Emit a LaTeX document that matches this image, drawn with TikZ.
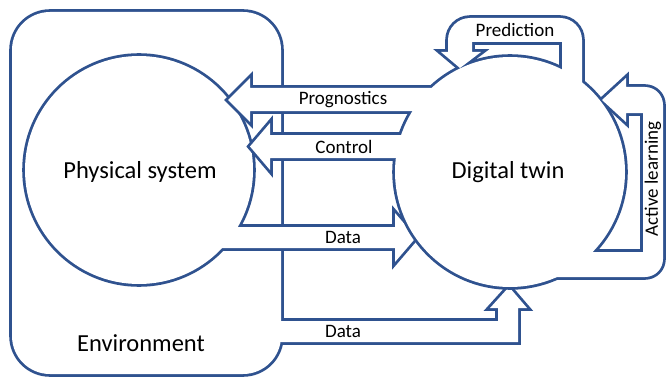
\documentclass[tikz,border=0pt]{standalone}
\usepackage{fontspec}
\setmainfont{Carlito}
\definecolor{twinblue}{HTML}{2F528F}

% outlines of the merged shapes (x=1pt, y=-1pt)
\newcommand{\envpath}{[rounded corners=38pt] (12,12) rectangle (281,374)}
\newcommand{\datalow}{(240,321) -- (498,321) -- (498,308) -- (490,308) -- (509,287) -- (527,308) -- (518,308) -- (518,342) -- (240,342) -- cycle}
\newcommand{\physpath}{(139,170) circle[radius=114pt]}
\newcommand{\dataup}{(200,227) -- (395,227) -- (395,213) -- (416,237.5) -- (395,262) -- (395,248) -- (200,248) -- cycle}
\newcommand{\twinpath}{(510,172) circle[radius=115pt]}
\newcommand{\progpath}{(470,88) -- (250,88) -- (250,78) -- (228,100) -- (250,122) -- (250,111) -- (470,111) -- cycle}
\newcommand{\ctrlpath}{(470,135) -- (270,135) -- (270,123) -- (250,146.5) -- (270,170) -- (270,158) -- (470,158) -- cycle}
\newcommand{\predpath}{(562,120) -- (562,42) -- (472,42) -- (472,52) -- (481,52) -- (460,68) -- (441,52) -- (448,52) -- (448,40) arc[start angle=180,end angle=90,radius=22pt] -- (560,18) arc[start angle=90,end angle=0,radius=22pt] -- (582,120) -- cycle}
\newcommand{\learnpath}{(540,277) -- (645,277) arc[start angle=-90,end angle=0,radius=18pt] -- (663,105) arc[start angle=0,end angle=90,radius=18pt] -- (626,87) -- (626,78) -- (602,100) -- (626,122) -- (626,113) -- (643,113) -- (643,252) -- (540,252) -- cycle}

\begin{document}
\begin{tikzpicture}[x=1pt,y=-1pt,
    outline/.style={draw=twinblue,line width=5.6pt},
    bigtext/.style={font=\fontsize{24.5}{26}\selectfont},
    smalltext/.style={font=\fontsize{19}{21}\selectfont}]

            \useasboundingbox (0,0) rectangle (668,377);

            % Environment with the lower data arrow
            \draw[outline] \envpath;
            \draw[outline] \datalow;
            \fill[white] \envpath;
            \fill[white] \datalow;

            % Physical system with the upper data arrow
            \draw[outline] \physpath;
            \draw[outline] \dataup;
            \fill[white] \physpath;
            \fill[white] \dataup;

            % Digital twin with its arrows
            \draw[outline] \twinpath;
            \draw[outline] \progpath;
            \draw[outline] \ctrlpath;
            \draw[outline] \predpath;
            \draw[outline] \learnpath;
            \fill[white] \twinpath;
            \fill[white] \progpath;
            \fill[white] \ctrlpath;
            \fill[white] \predpath;
            \fill[white] \learnpath;

            % Labels
            \node[bigtext] (phys) at (140,172) {Physical system};
            \node[bigtext] (twin) at (508,172) {Digital twin};
            \node[bigtext] (env) at (141,343) {Environment};
            \node[smalltext] (prog) at (343,100) {Prognostics};
            \node[smalltext] (ctrl) at (344,147) {Control};
            \node[smalltext] (dataup) at (343,237.5) {Data};
            \node[smalltext] (datalow) at (343,331.5) {Data};
            \node[smalltext] (pred) at (515,30) {Prediction};
            \node[smalltext,rotate=90] (learn) at (653,179) {Active learning};

\end{tikzpicture}
\end{document}
